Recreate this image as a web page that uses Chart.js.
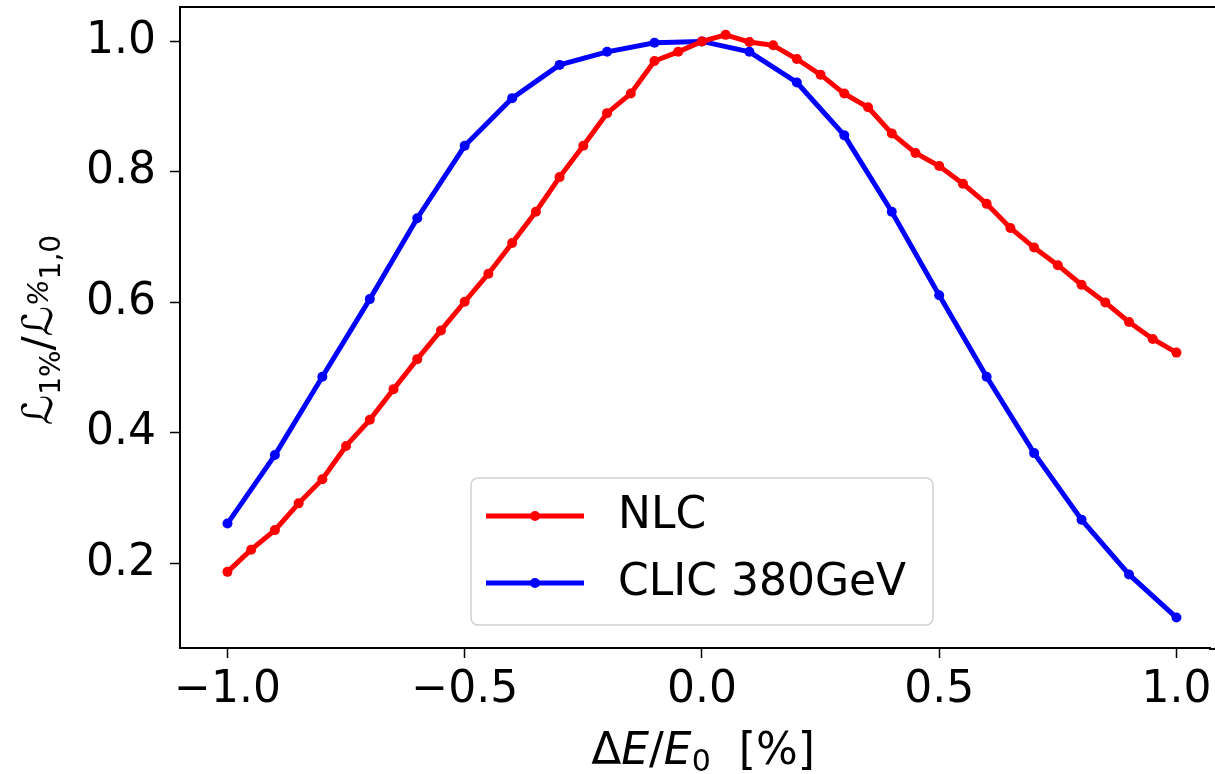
<!DOCTYPE html>
<html lang="en">
<head>
    <meta charset="UTF-8">
    <title>Luminosity vs energy offset</title>
    <script src="https://cdn.jsdelivr.net/npm/chart.js"></script>
    <style>
        body { margin: 0; background: #fff; }
        #wrap { width: 1215px; height: 774px; }
    </style>
</head>
<body>
    <div id="wrap"><canvas id="lumChart"></canvas></div>

    <script>
        // NLC scan, 0.05 steps
        const nlcX = [-1.0, -0.95, -0.9, -0.85, -0.8, -0.75, -0.7, -0.65, -0.6, -0.55, -0.5,
            -0.45, -0.4, -0.35, -0.3, -0.25, -0.2, -0.15, -0.1, -0.05, 0.0,
            0.05, 0.1, 0.15, 0.2, 0.25, 0.3, 0.35, 0.4, 0.45, 0.5,
            0.55, 0.6, 0.65, 0.7, 0.75, 0.8, 0.85, 0.9, 0.95, 1.0];
        const nlcY = [0.187, 0.221, 0.251, 0.292, 0.329, 0.380, 0.420, 0.467, 0.513, 0.557, 0.601,
            0.644, 0.691, 0.739, 0.792, 0.840, 0.890, 0.920, 0.970, 0.984, 1.000,
            1.010, 0.999, 0.994, 0.973, 0.949, 0.920, 0.899, 0.859, 0.829, 0.809,
            0.782, 0.751, 0.714, 0.684, 0.657, 0.627, 0.600, 0.570, 0.544, 0.523];

        // CLIC 380GeV scan, 0.1 steps
        const clicX = [-1.0, -0.9, -0.8, -0.7, -0.6, -0.5, -0.4, -0.3, -0.2, -0.1, 0.0,
            0.1, 0.2, 0.3, 0.4, 0.5, 0.6, 0.7, 0.8, 0.9, 1.0];
        const clicY = [0.261, 0.366, 0.486, 0.605, 0.729, 0.840, 0.913, 0.964, 0.984, 0.998, 1.000,
            0.984, 0.937, 0.856, 0.739, 0.611, 0.486, 0.369, 0.267, 0.183, 0.117];

        const xTicks = [-1.0, -0.5, 0.0, 0.5, 1.0];
        const yTicks = [0.2, 0.4, 0.6, 0.8, 1.0];

        const FONT = 'DejaVu Sans';
        const FS = 44;

        function toPoints(xs, ys) {
            return xs.map((x, i) => ({ x: x, y: ys[i] }));
        }

        function fmt(v) {
            const s = Math.abs(v).toFixed(1);
            return v < 0 ? '\u2212' + s : s;
        }

        // draws a run of text pieces [text, size, italic, dy] centred on cx
        function drawPieces(ctx, pieces, cx, baseY) {
            let total = 0;
            pieces.forEach(p => {
                ctx.font = (p[2] ? 'italic ' : '') + p[1] + 'px "' + FONT + '"';
                p.w = ctx.measureText(p[0]).width;
                total += p.w;
            });
            let x = cx - total / 2;
            pieces.forEach(p => {
                ctx.font = (p[2] ? 'italic ' : '') + p[1] + 'px "' + FONT + '"';
                ctx.fillText(p[0], x, baseY + p[3]);
                x += p.w;
            });
        }

        const decorPlugin = {
            id: 'decor',
            afterDraw(chart) {
                const ctx = chart.ctx;
                const a = chart.chartArea;
                ctx.save();

                // top frame line, and bottom spine running off the right edge
                ctx.strokeStyle = '#000';
                ctx.lineWidth = 2;
                ctx.beginPath();
                ctx.moveTo(a.left - 1, a.top);
                ctx.lineTo(chart.width, a.top);
                ctx.moveTo(a.right - 1, a.bottom + 1);
                ctx.lineTo(chart.width, a.bottom + 1);
                ctx.stroke();

                ctx.fillStyle = '#000';
                ctx.textBaseline = 'alphabetic';
                ctx.textAlign = 'left';

                // x axis title
                drawPieces(ctx, [
                    ['\u0394', FS, false, 0],
                    ['E', FS, true, 0],
                    ['/', FS, false, 0],
                    ['E', FS, true, 0],
                    ['0', 30, false, 7],
                    ['  [%]', FS, false, 0]
                ], 703, 764);

                // y axis title (rotated)
                ctx.save();
                ctx.translate(52, 330);
                ctx.rotate(-Math.PI / 2);
                drawPieces(ctx, [
                    ['\u2112', 42, true, 0],
                    ['1%', 28, false, 8],
                    ['/', 42, false, 0],
                    ['\u2112', 42, true, 0],
                    ['%', 28, true, -4],
                    ['1,0', 28, false, 8]
                ], 0, 0);
                ctx.restore();

                // legend
                const bx = 471, by = 478, bw = 462, bh = 147;
                ctx.fillStyle = 'rgba(255,255,255,0.8)';
                ctx.strokeStyle = '#d0d0d0';
                ctx.lineWidth = 1.5;
                ctx.beginPath();
                ctx.roundRect(bx, by, bw, bh, 7);
                ctx.fill();
                ctx.stroke();

                const rows = [516, 583];
                chart.data.datasets.forEach((ds, i) => {
                    const y = rows[i];
                    ctx.strokeStyle = ds.borderColor;
                    ctx.lineWidth = ds.borderWidth;
                    ctx.beginPath();
                    ctx.moveTo(486, y);
                    ctx.lineTo(584, y);
                    ctx.stroke();
                    ctx.fillStyle = ds.borderColor;
                    ctx.beginPath();
                    ctx.arc(535, y, ds.pointRadius, 0, Math.PI * 2);
                    ctx.fill();
                    ctx.fillStyle = '#000';
                    ctx.font = FS + 'px "' + FONT + '"';
                    ctx.textBaseline = 'middle';
                    ctx.fillText(ds.label, 618, y + 1);
                });

                ctx.restore();
            }
        };

        const ctx = document.getElementById('lumChart').getContext('2d');
        new Chart(ctx, {
            type: 'scatter',
            data: {
                datasets: [{
                    label: 'NLC',
                    data: toPoints(nlcX, nlcY),
                    showLine: true,
                    borderColor: '#ff0000',
                    backgroundColor: '#ff0000',
                    borderWidth: 5,
                    pointRadius: 5,
                    pointBorderWidth: 0,
                    tension: 0
                }, {
                    label: 'CLIC 380GeV',
                    data: toPoints(clicX, clicY),
                    showLine: true,
                    borderColor: '#0000ff',
                    backgroundColor: '#0000ff',
                    borderWidth: 5,
                    pointRadius: 5,
                    pointBorderWidth: 0,
                    tension: 0
                }]
            },
            options: {
                responsive: true,
                maintainAspectRatio: false,
                animation: false,
                layout: { padding: { top: 7, right: 0, left: 0, bottom: 0 } },
                plugins: {
                    legend: { display: false },
                    tooltip: { enabled: false }
                },
                scales: {
                    x: {
                        type: 'linear',
                        min: -1.1,
                        max: 1.0707,
                        afterBuildTicks: s => { s.ticks = xTicks.map(v => ({ value: v })); },
                        afterFit: s => { s.height = 126; s.paddingLeft = 0; s.paddingRight = 0; },
                        grid: { drawOnChartArea: false, drawTicks: true, tickLength: 10, tickWidth: 1.5, color: '#000' },
                        border: { display: true, color: '#000', width: 2 },
                        ticks: {
                            color: '#000',
                            font: { family: FONT, size: FS },
                            padding: 6,
                            maxRotation: 0,
                            callback: v => fmt(v)
                        }
                    },
                    y: {
                        type: 'linear',
                        min: 0.0703,
                        max: 1.0527,
                        afterBuildTicks: s => { s.ticks = yTicks.map(v => ({ value: v })); },
                        afterFit: s => { s.width = 180; s.paddingTop = 0; s.paddingBottom = 0; },
                        grid: { drawOnChartArea: false, drawTicks: true, tickLength: 10, tickWidth: 1.5, color: '#000' },
                        border: { display: true, color: '#000', width: 2 },
                        ticks: {
                            color: '#000',
                            font: { family: FONT, size: FS },
                            padding: 14,
                            callback: v => fmt(v)
                        }
                    }
                }
            },
            plugins: [decorPlugin]
        });
    </script>
</body>
</html>
